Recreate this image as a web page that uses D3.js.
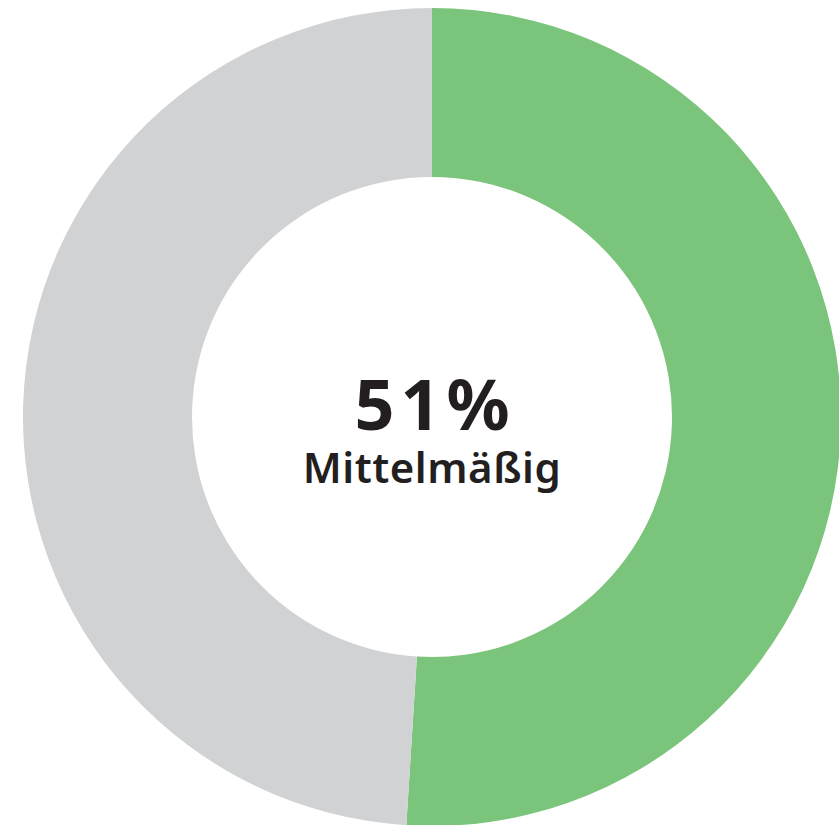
<!DOCTYPE html>
<html>
<head>
<meta charset="utf-8">
<script src="https://cdn.jsdelivr.net/npm/d3@7"></script>
<style>
  html, body { margin: 0; padding: 0; background: #fff; }
  svg { display: block; }
</style>
</head>
<body>
<svg id="chart" width="839" height="825"></svg>
<script>
const labels = ["Mittelmäßig", "Rest"];
const values = [51, 49];
const colors = ["#7bc47b", "#d1d2d4"];

const width = 839, height = 825;
const cx = 432, cy = 417;
const outer = 409, inner = 240;

const svg = d3.select("#chart");

const pie = d3.pie().sort(null).value(d => d)(values);
const arc = d3.arc().innerRadius(inner).outerRadius(outer);

const g = svg.append("g")
    .attr("transform", `translate(${cx},${cy})`);

g.selectAll("path")
    .data(pie)
    .join("path")
    .attr("d", arc)
    .attr("fill", (d, i) => colors[i]);

// centre label
g.append("text")
    .attr("y", 13)
    .attr("x", 3)
    .attr("text-anchor", "middle")
    .attr("font-family", "'Noto Sans', sans-serif")
    .attr("font-weight", 700)
    .attr("font-size", 70)
    .attr("letter-spacing", 6)
    .attr("fill", "#231f20")
    .text(values[0] + "%");

g.append("text")
    .attr("y", 66)
    .attr("text-anchor", "middle")
    .attr("font-family", "'Noto Sans', sans-serif")
    .attr("font-weight", 600)
    .attr("font-size", 42)
    .attr("letter-spacing", 0.5)
    .attr("fill", "#231f20")
    .text(labels[0]);
</script>
</body>
</html>
